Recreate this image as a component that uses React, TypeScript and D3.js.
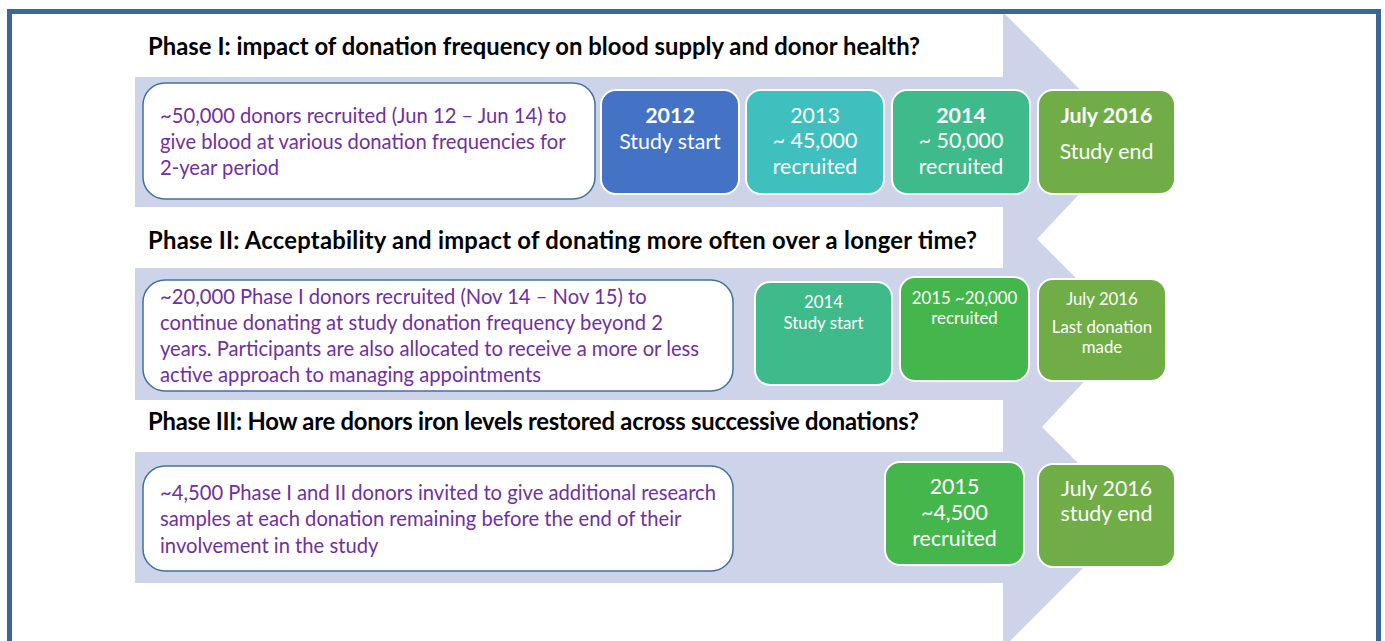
import React, { useLayoutEffect, useRef } from 'react';
import * as d3 from 'd3';

// ---------- DATA ----------
const phaseTitles = [
  'Phase I: impact of donation frequency on blood supply and donor health?',
  'Phase II: Acceptability and impact of donating more often over a longer time?',
  'Phase III: How are donors iron levels restored across successive donations?',
];

const phase1Description = [
  '~50,000 donors recruited (Jun 12 – Jun 14) to',
  'give blood at various donation frequencies for',
  '2-year period',
];
const phase2Description = [
  '~20,000 Phase I donors recruited (Nov 14 – Nov 15) to',
  'continue donating at study donation frequency beyond 2',
  'years. Participants are also allocated to receive a more or less',
  'active approach to managing appointments',
];
const phase3Description = [
  '~4,500 Phase I and II donors invited to give additional research',
  'samples at each donation remaining before the end of their',
  'involvement in the study',
];

const phase1Milestones = [
  ['2012', 'Study start'],
  ['2013', '~ 45,000', 'recruited'],
  ['2014', '~ 50,000', 'recruited'],
  ['July 2016', 'Study end'],
];
const phase2Milestones = [
  ['2014', 'Study start'],
  ['2015 ~20,000', 'recruited'],
  ['July 2016', 'Last donation', 'made'],
];
const phase3Milestones = [
  ['2015', '~4,500', 'recruited'],
  ['July 2016', 'study end'],
];

const milestoneKinds = [
  ['start', 'recruit', 'recruit2', 'end'],
  ['recruit2', 'recruit3', 'end'],
  ['recruit3', 'end'],
];

// ---------- STYLE / LAYOUT ----------
const W = 1385;
const H = 641;
const color = d3
  .scaleOrdinal<string, string>()
  .domain(['start', 'recruit', 'recruit2', 'recruit3', 'end'])
  .range(['#4472c4', '#40bfbf', '#3fba8b', '#45b64b', '#70ad47']);

const FONT = 'Lato, "Open Sans", sans-serif';
const PURPLE = '#7030a0';
const LAVENDER = '#cdd4ea';
const FRAME = '#3f6496';

const arrowPts: [number, number][] = [
  [135, 12], [1003, 12], [1130, 140], [1037, 239], [1130, 332],
  [1042, 427], [1133, 518], [1003, 648], [135, 648],
];
const whiteStrips = [[12, 77], [207, 268], [400, 452], [583, 648]];

const titleY = [46, 240, 421];
const titleTargets = [772, 829, 771];

const descBoxes = [
  { x: 143, y: 83, w: 452, h: 116, lineY: [116, 142, 168], targets: [402, 408, null] },
  { x: 143, y: 280, w: 590, h: 111, lineY: [297, 323, 349, 375], targets: [480, 505, 544, null] },
  { x: 143, y: 466, w: 590, h: 105, lineY: [493, 519, 546], targets: [553, 528, null] },
];
const descriptions = [phase1Description, phase2Description, phase3Description];
const milestones = [phase1Milestones, phase2Milestones, phase3Milestones];

type BoxL = { x: number; y: number; w: number; h: number; lineY: number[]; bold: boolean[]; grp: string; targets: (number | null)[] };
const boxLayout: BoxL[][] = [
  [
    { x: 601, y: 90, w: 138, h: 104, lineY: [115, 141], bold: [true, false], grp: 'big', targets: [null, 103] },
    { x: 746, y: 90, w: 138, h: 104, lineY: [115, 140, 166], bold: [false, false, false], grp: 'big', targets: [null, null, 84] },
    { x: 892, y: 90, w: 138, h: 104, lineY: [115, 140, 166], bold: [true, false, false], grp: 'big', targets: [null, null, null] },
    { x: 1038, y: 90, w: 137, h: 104, lineY: [115, 151], bold: [true, false], grp: 'big', targets: [null, 93] },
  ],
  [
    { x: 755, y: 282, w: 137, h: 103, lineY: [302, 323], bold: [false, false], grp: 'small', targets: [null, 82] },
    { x: 900, y: 277, w: 129, h: 104, lineY: [298, 318], bold: [false, false], grp: 'small', targets: [103, null] },
    { x: 1038, y: 279, w: 128, h: 102, lineY: [299, 327, 347], bold: [false, false, false], grp: 'small', targets: [null, 101, null] },
  ],
  [
    { x: 885, y: 462, w: 139, h: 103, lineY: [486, 512, 538], bold: [false, false, false], grp: 'big', targets: [null, null, null] },
    { x: 1038, y: 464, w: 137, h: 103, lineY: [488, 513], bold: [false, false], grp: 'big', targets: [null, null] },
  ],
];
const groupSizes: Record<string, number> = { title: 20, desc: 18, big: 20, small: 16 };

export default function App() {
  const ref = useRef<SVGSVGElement>(null);

  useLayoutEffect(() => {
    const svg = ref.current;
    if (!svg) return;
    Object.keys(groupSizes).forEach((g) => {
      const all = Array.from(svg.querySelectorAll<SVGTextElement>(`text[data-g="${g}"]`));
      let tgt = 0;
      let act = 0;
      all.forEach((el) => {
        const w = el.getAttribute('data-w');
        if (w) {
          tgt += +w;
          act += el.getComputedTextLength();
        }
      });
      if (act > 0) {
        const size = groupSizes[g] * (tgt / act);
        all.forEach((el) => el.setAttribute('font-size', String(size)));
      }
    });
    // fine-tune each title to its own measured width by letter spacing only
    svg.querySelectorAll<SVGTextElement>('text[data-title]').forEach((el) => {
      el.setAttribute('textLength', el.getAttribute('data-title') as string);
      el.setAttribute('lengthAdjust', 'spacing');
    });
  }, []);

  const arrowPath = d3.line()(arrowPts) + 'Z';

  return (
    <svg ref={ref} width={W} height={H} style={{ position: 'absolute', left: 0, top: 0, background: '#fff' }} fontFamily={FONT}>
      <rect x={0} y={0} width={W} height={H} fill="#fff" />
      <path d={arrowPath} fill={LAVENDER} />
      {whiteStrips.map(([a, b], i) => (
        <rect key={i} x={135} y={a} width={1003 - 135} height={b - a} fill="#fff" />
      ))}
      {/* frame */}
      <path d={`M9.5,${H + 10} V11.5 H1378.5 V${H + 10}`} fill="none" stroke={FRAME} strokeWidth={5} />

      {phaseTitles.map((t, i) => (
        <text key={i} x={148} y={titleY[i]} dy="0.36em" fontWeight="bold" fontSize={groupSizes.title} fill="#000" data-g="title" data-w={titleTargets[i]} data-title={titleTargets[i]}>
          {t}
        </text>
      ))}

      {descBoxes.map((b, i) => (
        <g key={i}>
          <rect x={b.x} y={b.y} width={b.w} height={b.h} rx={22} ry={22} fill="#fff" stroke="#41719c" strokeWidth={1.5} />
          {descriptions[i].map((line, j) => (
            <text key={j} x={160} y={b.lineY[j]} dy="0.36em" fontSize={groupSizes.desc} fill={PURPLE} data-g="desc" data-w={b.targets[j] ?? undefined}>
              {line}
            </text>
          ))}
        </g>
      ))}

      {boxLayout.map((row, i) =>
        row.map((b, j) => (
          <g key={`${i}-${j}`}>
            <rect x={b.x} y={b.y} width={b.w} height={b.h} rx={15} ry={15} fill={color(milestoneKinds[i][j])} stroke="#fff" strokeWidth={2} />
            {milestones[i][j].map((line, k) => (
              <text key={k} x={b.x + b.w / 2} y={b.lineY[k]} dy="0.36em" textAnchor="middle" fill="#fff" fontWeight={b.bold[k] ? 'bold' : 'normal'} fontSize={groupSizes[b.grp]} data-g={b.grp} data-w={b.targets[k] ?? undefined}>
                {line}
              </text>
            ))}
          </g>
        ))
      )}
    </svg>
  );
}
